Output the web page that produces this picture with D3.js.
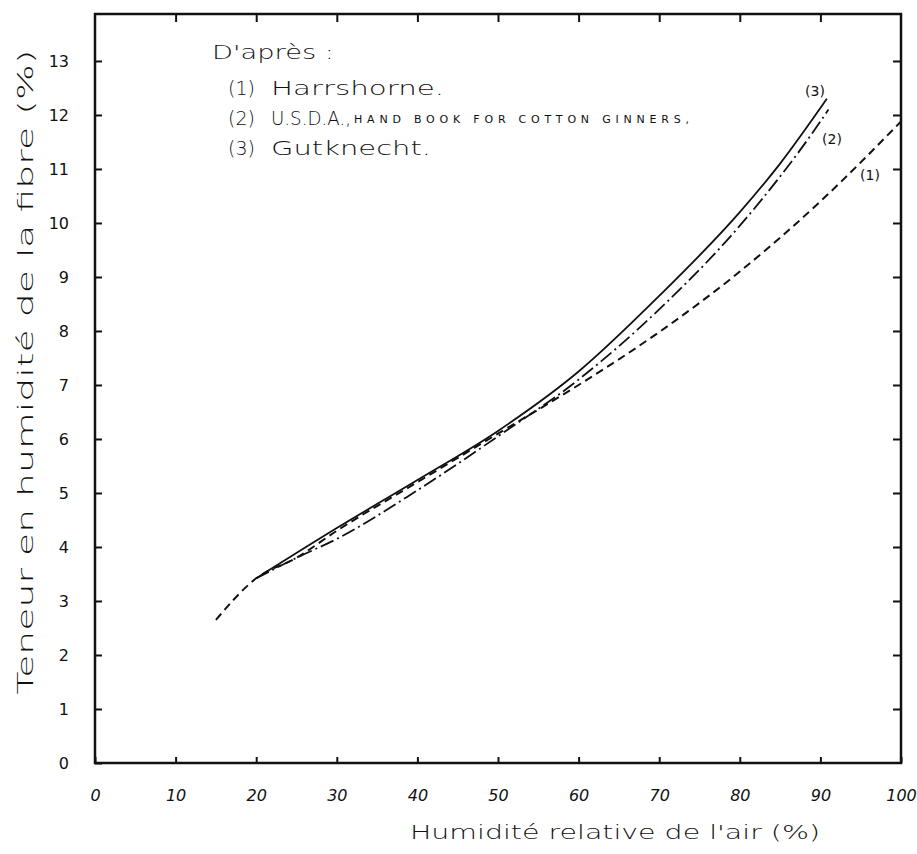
<!DOCTYPE html>
<html lang="fr">
<head>
<meta charset="UTF-8">
<title>Teneur en humidité de la fibre</title>
<script src="https://d3js.org/d3.v7.min.js"></script>
<style>
    body { margin: 0; background: #fff; }
    text { font-family: "DejaVu Sans", sans-serif; fill: #111; font-weight: 200; }
    .axis text { font-size: 16px; font-weight: normal; }
    .axis line { stroke: #111; stroke-width: 2px; }
    .axis path { display: none; }
    .curve { fill: none; stroke: #111; }
    .clabel { font-weight: normal; }
</style>
</head>
<body>
<svg width="917" height="854"></svg>
<script>
// humidite relative de l'air (%) -> teneur en humidite de la fibre (%)
var hartshorneX = [15, 20, 25, 30, 40, 50, 60, 70, 80, 90, 100];
var hartshorneY = [2.65, 3.42, 3.8, 4.3, 5.2, 6.1, 7.0, 7.98, 9.1, 10.4, 11.88];

var usdaX = [20, 25, 30, 40, 50, 60, 70, 80, 90, 91];
var usdaY = [3.42, 3.8, 4.15, 5.05, 6.05, 7.1, 8.4, 9.95, 11.88, 12.1];

var gutknechtX = [20, 30, 40, 50, 60, 70, 80, 85, 90.8];
var gutknechtY = [3.42, 4.35, 5.24, 6.15, 7.25, 8.65, 10.2, 11.1, 12.3];

var xTicks = [0, 10, 20, 30, 40, 50, 60, 70, 80, 90, 100];
var yTicks = [0, 1, 2, 3, 4, 5, 6, 7, 8, 9, 10, 11, 12, 13];

var legendTitle = "D'après :";
var legendNums = ["(1)", "(2)", "(3)"];
var legendNames = ["Harrshorne.", "U.S.D.A.,", "Gutknecht."];
var legendSub = "HAND BOOK FOR COTTON GINNERS,";

var svg = d3.select("svg");
var pLeft = 95, pRight = 901, pTop = 14, pBottom = 763;

var x = d3.scaleLinear().domain([0, 100]).range([pLeft, pRight]);
var y = d3.scaleLinear().domain([0, 13.87]).range([pBottom, pTop]);

// ticks pointing inward on all four sides
svg.append("g").attr("class", "axis")
    .attr("transform", "translate(0," + pBottom + ")")
    .call(d3.axisBottom(x).tickValues(xTicks).tickSize(-6).tickPadding(27))
    .selectAll("text").style("font-style", "italic");

svg.append("g").attr("class", "axis")
    .attr("transform", "translate(0," + pTop + ")")
    .call(d3.axisTop(x).tickValues(xTicks.slice(1, -1)).tickSize(-8).tickFormat(""));

svg.append("g").attr("class", "axis")
    .attr("transform", "translate(" + pLeft + ",0)")
    .call(d3.axisLeft(y).tickValues(yTicks).tickSize(-7).tickPadding(26));

svg.append("g").attr("class", "axis")
    .attr("transform", "translate(" + pRight + ",0)")
    .call(d3.axisRight(y).tickValues(yTicks.slice(1)).tickSize(-8).tickFormat(""));

svg.append("rect")
    .attr("x", pLeft).attr("y", pTop)
    .attr("width", pRight - pLeft).attr("height", pBottom - pTop)
    .style("fill", "none").style("stroke", "#111").style("stroke-width", 2.5);

var line = d3.line()
    .x(function(d) { return x(d[0]); })
    .y(function(d) { return y(d[1]); })
    .curve(d3.curveMonotoneX);

function pairs(xs, ys) { return xs.map(function(v, i) { return [v, ys[i]]; }); }

svg.append("path").attr("class", "curve")
    .attr("d", line(pairs(hartshorneX, hartshorneY)))
    .style("stroke-width", 2).style("stroke-dasharray", "8,5");

svg.append("path").attr("class", "curve")
    .attr("d", line(pairs(usdaX, usdaY)))
    .style("stroke-width", 1.8).style("stroke-dasharray", "14,4,2,4");

svg.append("path").attr("class", "curve")
    .attr("d", line(pairs(gutknechtX, gutknechtY)))
    .style("stroke-width", 1.8);

// curve labels
svg.append("text").attr("class", "clabel").attr("x", 815).attr("y", 92).text("(3)")
    .style("font-size", "14px").attr("text-anchor", "middle").attr("dominant-baseline", "middle");
svg.append("text").attr("class", "clabel").attr("x", 832).attr("y", 140).text("(2)")
    .style("font-size", "14px").attr("text-anchor", "middle").attr("dominant-baseline", "middle");
svg.append("text").attr("class", "clabel").attr("x", 870).attr("y", 176).text("(1)")
    .style("font-size", "14px").attr("text-anchor", "middle").attr("dominant-baseline", "middle");

// legend
svg.append("text").attr("x", 212).attr("y", 53).text(legendTitle)
    .style("font-size", "19px").attr("dominant-baseline", "middle")
    .attr("textLength", 122).attr("lengthAdjust", "spacingAndGlyphs");

var legendY = [89, 119, 149];
var legendLen = [173, 80, 160];
legendNums.forEach(function(n, i) {
    svg.append("text").attr("x", 228).attr("y", legendY[i]).text(n)
        .style("font-size", "19px").attr("dominant-baseline", "middle");
    svg.append("text").attr("x", 271).attr("y", legendY[i]).text(legendNames[i])
        .style("font-size", "19px").attr("dominant-baseline", "middle")
        .attr("textLength", legendLen[i]).attr("lengthAdjust", "spacingAndGlyphs");
});
svg.append("text").attr("x", 354).attr("y", legendY[1] + 1).text(legendSub)
    .style("font-size", "11px").style("font-weight", "normal").attr("dominant-baseline", "middle")
    .attr("textLength", 335).attr("lengthAdjust", "spacing");

// axis titles
svg.append("text").attr("x", 615).attr("y", 833)
    .text("Humidité relative de l'air (%)")
    .style("font-size", "20px").attr("text-anchor", "middle").attr("dominant-baseline", "middle")
    .attr("textLength", 410).attr("lengthAdjust", "spacingAndGlyphs");

svg.append("text")
    .attr("transform", "translate(27,372) rotate(-90)")
    .text("Teneur en humidité de la fibre (%)")
    .style("font-size", "21px").attr("text-anchor", "middle").attr("dominant-baseline", "middle")
    .attr("textLength", 645).attr("lengthAdjust", "spacingAndGlyphs");
</script>
</body>
</html>
